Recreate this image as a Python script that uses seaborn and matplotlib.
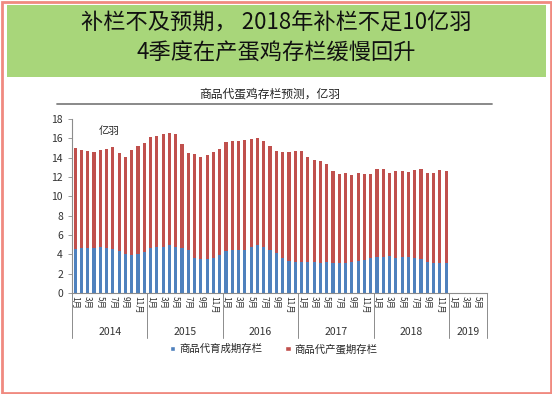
import matplotlib
matplotlib.use('Agg')
import matplotlib.pyplot as plt
from matplotlib.patches import Rectangle, Patch
from matplotlib.lines import Line2D
import seaborn as sns
import numpy as np
import pandas as pd

# 亿羽, monthly 2014-01 .. 2018-12 (2019 has no bars)
years = ['2014', '2015', '2016', '2017', '2018', '2019']
months_per_year = [12, 12, 12, 12, 12, 6]

# 商品代育成期存栏 (blue, bottom)
growing = [4.6, 4.65, 4.7, 4.65, 4.75, 4.7, 4.6, 4.3, 4.0, 3.9, 4.0, 4.2,
           4.7, 4.8, 4.8, 4.95, 4.8, 4.7, 4.4, 3.6, 3.5, 3.5, 3.6, 3.9,
           4.3, 4.4, 4.4, 4.5, 4.8, 4.95, 4.8, 4.4, 4.1, 3.6, 3.3, 3.2,
           3.2, 3.2, 3.2, 3.1, 3.2, 3.1, 3.1, 3.1, 3.2, 3.3, 3.4, 3.6,
           3.7, 3.7, 3.8, 3.6, 3.7, 3.7, 3.6, 3.5, 3.2, 3.1, 3.1, 3.1]
# 商品代产蛋期存栏 (red, top)
laying = [10.4, 10.15, 10.0, 9.95, 10.05, 10.2, 10.5, 10.2, 10.1, 10.9, 11.2, 11.3,
          11.4, 11.4, 11.6, 11.65, 11.7, 10.7, 10.1, 10.8, 10.6, 10.8, 11.0, 11.0,
          11.3, 11.3, 11.3, 11.3, 11.1, 11.05, 10.9, 10.8, 10.6, 11.0, 11.3, 11.5,
          11.5, 10.9, 10.6, 10.6, 10.1, 9.5, 9.2, 9.3, 9.0, 9.1, 8.9, 8.7,
          9.1, 9.1, 8.6, 9.0, 8.9, 8.85, 9.1, 9.3, 9.2, 9.3, 9.6, 9.5]

blue = '#4f81bd'
red = '#c0504d'

sns.set_style('white')
plt.rcParams['font.family'] = ['Noto Sans CJK SC', 'DejaVu Sans']

all_months = [f'{y}-{m:02d}' for y, n in zip(years, months_per_year) for m in range(1, n + 1)]
df = pd.DataFrame({'month': all_months[:len(growing)],
                   'growing': growing, 'laying': laying})
df['total'] = df['growing'] + df['laying']

fig = plt.figure(figsize=(5.52, 3.94), dpi=100)
W, H = 552, 394

# frame and green banner
fig.patches.append(Rectangle((1.5 / W, 1.5 / H), 1 - 3 / W, 1 - 3 / H, transform=fig.transFigure,
                             fill=False, edgecolor='#f08a80', linewidth=2))
fig.patches.append(Rectangle((7 / W, 1 - 77 / H), 539 / W, 72 / H, transform=fig.transFigure,
                             facecolor='#a8d67a', edgecolor='none'))
fig.text(0.5, 1 - 23 / H, '补栏不及预期， 2018年补栏不足10亿羽', ha='center', va='center',
         fontsize=16, color='#111111', fontweight='medium')
fig.text(0.5, 1 - 53 / H, '4季度在产蛋鸡存栏缓慢回升', ha='center', va='center',
         fontsize=16, color='#111111', fontweight='medium')

fig.text(270 / W, 1 - 94 / H, '商品代蛋鸡存栏预测，亿羽', ha='center', va='center',
         fontsize=8.5, color='#222222')
fig.lines.append(Line2D([57 / W, 492 / W], [1 - 104 / H, 1 - 104 / H], transform=fig.transFigure,
                        color='#808080', linewidth=1.3))

ax = fig.add_axes([72 / W, 1 - 293 / H, 415 / W, 174 / H])
sns.barplot(data=df, x='month', y='total', order=all_months, color=red, saturation=1,
            width=0.5, errorbar=None, linewidth=0, ax=ax)
sns.barplot(data=df, x='month', y='growing', order=all_months, color=blue, saturation=1,
            width=0.5, errorbar=None, linewidth=0, ax=ax)

ax.set_xlim(-0.5, len(all_months) - 0.5)
ax.set_ylim(0, 18)
ax.set_yticks(range(0, 19, 2))
ax.set_xlabel('')
ax.set_ylabel('')
for s in ['top', 'right']:
    ax.spines[s].set_visible(False)
for s in ['left', 'bottom']:
    ax.spines[s].set_color('#8c8c8c')
    ax.spines[s].set_linewidth(0.8)

tick_pos = [i for i, m in enumerate(all_months) if int(m[-2:]) % 2 == 1]
tick_lab = [f'{int(all_months[i][-2:])}月' for i in tick_pos]
ax.set_xticks(tick_pos)
ax.set_xticklabels(tick_lab, rotation=-90, fontsize=6, color='#333333')
ax.set_xticks(np.arange(-0.5, len(all_months), 1), minor=True)
ax.tick_params(axis='x', which='major', length=0, pad=2)
ax.tick_params(axis='x', which='minor', length=3, color='#8c8c8c', width=0.6, direction='out')
ax.tick_params(axis='y', length=3, color='#8c8c8c', width=0.6, labelsize=7.5, labelcolor='#333333',
               direction='out', left=True)

# year groups under the month labels
tr = ax.get_xaxis_transform()
start = 0
for yr, n in zip(years, months_per_year):
    ax.text(start + n / 2 - 0.5, -39 / 174, yr, transform=tr, ha='center', va='center',
            fontsize=7.5, color='#333333')
    start += n
bounds = np.cumsum([0] + months_per_year) - 0.5
for b in bounds:
    ax.plot([b, b], [0, -45 / 174], transform=tr, color='#8c8c8c', linewidth=0.7, clip_on=False)

ax.text(0.065, 0.93, '亿羽', transform=ax.transAxes, fontsize=7.5, color='#222222', va='center')

handles = [Patch(facecolor=blue, label='商品代育成期存栏'),
           Patch(facecolor=red, label='商品代产蛋期存栏')]
fig.legend(handles=handles, loc='center', bbox_to_anchor=(274 / W, 1 - 349 / H), ncol=2,
           frameon=False, fontsize=7.5, handlelength=0.5, handleheight=0.5, handletextpad=0.4,
           columnspacing=2.2)

fig.savefig('out.png', dpi=100, facecolor='white')
